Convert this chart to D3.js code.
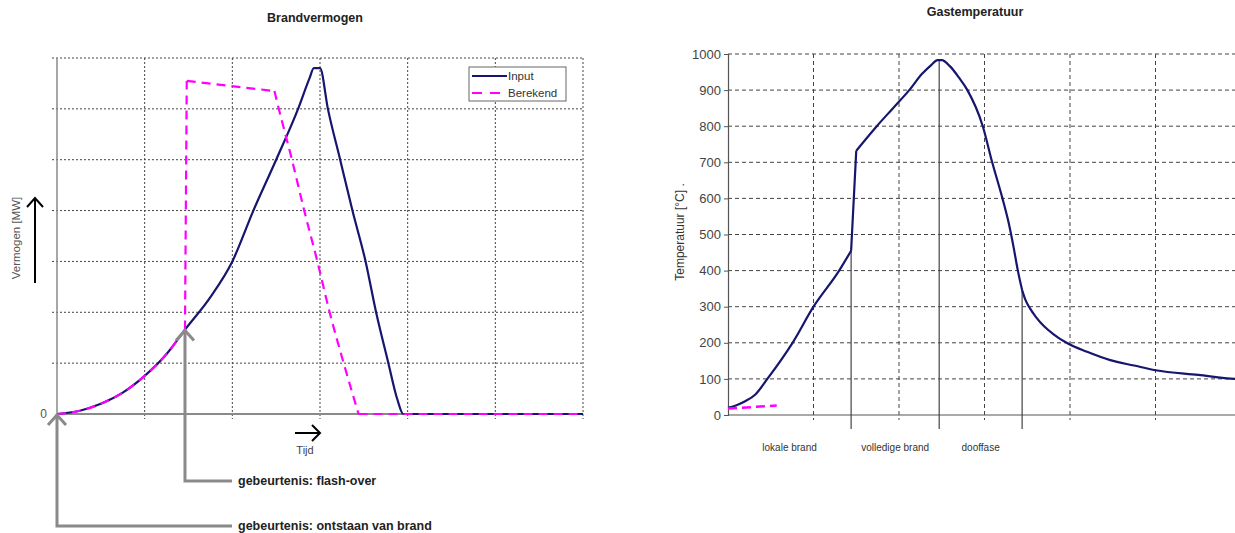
<!DOCTYPE html>
<html>
<head>
<meta charset="utf-8">
<script src="https://cdn.jsdelivr.net/npm/d3@7"></script>
<style>
  html, body { margin: 0; padding: 0; background: #fff; }
  svg { display: block; font-family: "Liberation Sans", Arial, sans-serif; }
</style>
</head>
<body>
<svg id="chart" width="1235" height="533"></svg>
<script>
// ---- Brandvermogen (fire power, arbitrary units over time) ----
const powerGridX = [1, 2, 3, 4, 5, 6];
const powerGridY = [1, 2, 3, 4, 5, 6, 7];
const inputTime  = [0, 0.25, 0.5, 0.75, 1.0, 1.25, 1.46, 1.75, 2.0, 2.24, 2.5, 2.75, 2.88, 2.93, 3.0, 3.09, 3.23, 3.37, 3.52, 3.64, 3.78, 3.88, 3.95, 6.0];
const inputPower = [0, 0.06, 0.2, 0.42, 0.75, 1.18, 1.66, 2.3, 3.0, 4.0, 5.0, 6.0, 6.6, 6.8, 6.8, 6.0, 5.0, 4.0, 3.0, 2.0, 1.0, 0.3, 0, 0];
const inputCorners = [];
const calcTime   = [0, 0.25, 0.5, 0.75, 1.0, 1.25, 1.46, 1.48, 2.48, 2.53, 2.68, 2.82, 2.97, 3.11, 3.27, 3.44, 6.0];
const calcPower  = [0, 0.06, 0.2, 0.42, 0.75, 1.18, 1.66, 6.55, 6.35, 6.0, 5.0, 4.0, 3.0, 2.0, 1.0, 0, 0];
const calcCorners = [1.46, 1.48, 2.48, 3.44];
const legendNames = ["Input", "Berekend"];
const eventNames  = ["gebeurtenis: flash-over", "gebeurtenis: ontstaan van brand"];
const eventTimes  = [1.46, 0];
const eventPower  = [1.66, 0];

// ---- Gastemperatuur (gas temperature in °C over time) ----
const tempTicks = [0, 100, 200, 300, 400, 500, 600, 700, 800, 900, 1000];
const tempGridX = [1, 2, 3, 4, 5, 6];
const tempTime  = [0, 0.1, 0.2, 0.32, 0.46, 0.755, 1.0, 1.3, 1.44, 1.5, 1.74, 1.93, 2.12, 2.27, 2.38, 2.45, 2.5, 2.6, 2.7, 2.8, 2.98, 3.09, 3.21, 3.28, 3.34, 3.39, 3.44, 3.48, 3.53, 3.6, 3.7, 3.8, 3.96, 4.2, 4.47, 4.75, 5.0, 5.5, 5.93, 6.0];
const tempValue = [20, 27, 38, 57, 100, 200, 300, 400, 455, 732, 800, 850, 900, 945, 970, 983, 983, 965, 935, 900, 800, 700, 600, 535, 465, 400, 346, 318, 296, 272, 245, 225, 200, 175, 152, 137, 124, 111, 100, 99];
const tempCorners = [1.44, 1.5, 3.44];
const tempCalcTime  = [0, 0.57];
const tempCalcValue = [18, 26];
const phaseTimes = [1.44, 2.47, 3.44];
const phaseTemps = [455, 983, 346];
const phaseNames = ["lokale brand", "volledige brand", "dooffase"];

const NAVY = "#16166e";
const MAGENTA = "#ff00ff";
const svg = d3.select("#chart");

// Split a series into smooth pieces at its sharp corners; a corner point
// ends one piece and starts the next, so the pieces join without gaps.
function pieces(times, values, corners) {
  const pts = d3.zip(times, values);
  const out = [];
  let cur = [];
  pts.forEach(p => {
    cur.push(p);
    if (corners.includes(p[0])) { out.push(cur); cur = [p]; }
  });
  if (cur.length > 1) out.push(cur);
  return out;
}
function drawSeries(g, line, times, values, corners, stroke, width, dash) {
  const segs = pieces(times, values, corners);
  const d = segs.map(s => line(s)).join("");
  g.append("path").attr("d", d).attr("fill", "none")
    .attr("stroke", stroke).attr("stroke-width", width)
    .attr("stroke-linejoin", "round")
    .attr("stroke-dasharray", dash);
}

// ================= left chart =================
const xL = d3.scaleLinear().domain([0, 6]).range([57, 583]);
const yL = d3.scaleLinear().domain([0, 7]).range([414, 58]);
const left = svg.append("g");

left.append("text")
  .attr("x", 315).attr("y", 22).attr("text-anchor", "middle")
  .attr("font-size", 12.5).attr("font-weight", "bold").attr("fill", "#222")
  .text("Brandvermogen");

// dotted grid
left.selectAll(".gx").data(powerGridX).join("line")
  .attr("x1", d => xL(d)).attr("x2", d => xL(d))
  .attr("y1", yL(7)).attr("y2", yL(0) + 5)
  .attr("stroke", "#444").attr("stroke-width", 1).attr("stroke-dasharray", "2,2");
left.selectAll(".gy").data(powerGridY).join("line")
  .attr("x1", xL(0) - 5).attr("x2", xL(6))
  .attr("y1", d => yL(d)).attr("y2", d => yL(d))
  .attr("stroke", "#444").attr("stroke-width", 1).attr("stroke-dasharray", "2,2");

// axes
left.append("line").attr("x1", xL(0)).attr("x2", xL(0)).attr("y1", yL(7)).attr("y2", yL(0))
  .attr("stroke", "#8a8a8a").attr("stroke-width", 1.5);
left.append("line").attr("x1", xL(0)).attr("x2", xL(6)).attr("y1", yL(0)).attr("y2", yL(0))
  .attr("stroke", "#8a8a8a").attr("stroke-width", 2);
left.append("text").attr("x", 47).attr("y", yL(0) + 4).attr("text-anchor", "end")
  .attr("font-size", 12).attr("fill", "#555").text("0");

// series
const lineL = d3.line().x(d => xL(d[0])).y(d => yL(d[1])).curve(d3.curveMonotoneX);
drawSeries(left, lineL, inputTime, inputPower, inputCorners, NAVY, 2.2, null);
drawSeries(left, lineL, calcTime, calcPower, calcCorners, MAGENTA, 2.2, "9,6");

// legend
const lg = left.append("g");
lg.append("rect").attr("x", 469).attr("y", 67).attr("width", 97).attr("height", 34)
  .attr("fill", "#fff").attr("stroke", "#666").attr("stroke-width", 1);
lg.selectAll(".ll").data(legendNames).join("line")
  .attr("x1", 472).attr("x2", 507)
  .attr("y1", (d, i) => 76 + i * 17).attr("y2", (d, i) => 76 + i * 17)
  .attr("stroke", (d, i) => i ? MAGENTA : NAVY).attr("stroke-width", 2.2)
  .attr("stroke-dasharray", (d, i) => i ? "10,8" : null);
lg.selectAll(".lt").data(legendNames).join("text")
  .attr("x", 508).attr("y", (d, i) => 80 + i * 17)
  .attr("font-size", 11.5).attr("fill", "#333").text(d => d);

// y label with arrow
left.append("text")
  .attr("transform", "translate(16,238) rotate(-90)")
  .attr("text-anchor", "middle").attr("dominant-baseline", "central")
  .attr("font-size", 11.5).attr("fill", "#555").text("Vermogen [MW]");
left.append("path").attr("d", "M35,283 V198 M27,207 L35,198 L43,207")
  .attr("fill", "none").attr("stroke", "#000").attr("stroke-width", 2);

// time arrow
left.append("path").attr("d", "M295,433 H320 M312,425 L320,433 L312,441")
  .attr("fill", "none").attr("stroke", "#000").attr("stroke-width", 2);
left.append("text").attr("x", 305).attr("y", 454).attr("text-anchor", "middle")
  .attr("font-size", 11).attr("fill", "#444").text("Tijd");

// event call-outs
const eventBaseY = [481, 526];
eventNames.forEach((name, i) => {
  const tx = xL(eventTimes[i]), ty = yL(eventPower[i]);
  left.append("path")
    .attr("d", `M${tx},${ty} V${eventBaseY[i]} H${xL(0) + 175}`)
    .attr("fill", "none").attr("stroke", "#8a8a8a").attr("stroke-width", 3);
  left.append("path")
    .attr("d", `M${tx - 9},${ty + 11} L${tx},${ty + 1} L${tx + 9},${ty + 11}`)
    .attr("fill", "none").attr("stroke", "#8a8a8a").attr("stroke-width", 3);
  left.append("text").attr("x", 238).attr("y", eventBaseY[i] + 4)
    .attr("font-size", 12.5).attr("font-weight", "bold").attr("fill", "#222").text(name);
});

// ================= right chart =================
const xR = d3.scaleLinear().domain([0, 6]).range([728, 1241]);
const yR = d3.scaleLinear().domain([0, 1000]).range([415, 54]);
const right = svg.append("g");

right.append("text")
  .attr("x", 975).attr("y", 16).attr("text-anchor", "middle")
  .attr("font-size", 12.5).attr("font-weight", "bold").attr("fill", "#222")
  .text("Gastemperatuur");

// dashed grid
right.selectAll(".gx").data(tempGridX).join("line")
  .attr("x1", d => xR(d)).attr("x2", d => xR(d))
  .attr("y1", yR(1000)).attr("y2", yR(0) + 5)
  .attr("stroke", "#444").attr("stroke-width", 1).attr("stroke-dasharray", "4,3");
right.selectAll(".gy").data(tempTicks.filter(d => d > 0)).join("line")
  .attr("x1", xR(0)).attr("x2", 1235)
  .attr("y1", d => yR(d)).attr("y2", d => yR(d))
  .attr("stroke", "#444").attr("stroke-width", 1).attr("stroke-dasharray", "4,3");

// y axis with ticks
const yAxisR = d3.axisLeft(yR).tickValues(tempTicks).tickFormat(d3.format("d"))
  .tickSize(4).tickPadding(3);
const ya = right.append("g").attr("transform", `translate(${xR(0)},0)`).call(yAxisR);
ya.select(".domain").attr("stroke", "#555").attr("stroke-width", 1.2);
ya.selectAll(".tick line").attr("stroke", "#555");
ya.selectAll(".tick text").attr("font-size", 13).attr("fill", "#444")
  .attr("font-family", "Liberation Sans, Arial, sans-serif");
right.append("line").attr("x1", xR(0)).attr("x2", 1235).attr("y1", yR(0)).attr("y2", yR(0))
  .attr("stroke", "#555").attr("stroke-width", 1.2);

right.append("text")
  .attr("transform", "translate(680,232) rotate(-90)")
  .attr("text-anchor", "middle").attr("dominant-baseline", "central")
  .attr("font-size", 12).attr("fill", "#333").text("Temperatuur [°C] .");

// phase separators and labels
right.selectAll(".ph").data(phaseTimes).join("line")
  .attr("x1", d => xR(d)).attr("x2", d => xR(d))
  .attr("y1", (d, i) => yR(phaseTemps[i])).attr("y2", yR(0) + 14)
  .attr("stroke", "#444").attr("stroke-width", 1.2);
const phaseStarts = [0].concat(phaseTimes.slice(0, -1));
right.selectAll(".pl").data(phaseNames).join("text")
  .attr("x", (d, i) => xR((phaseStarts[i] + phaseTimes[i]) / 2))
  .attr("y", 451).attr("text-anchor", "middle")
  .attr("font-size", 10).attr("fill", "#333").text(d => d);

// series
const lineR = d3.line().x(d => xR(d[0])).y(d => yR(d[1])).curve(d3.curveMonotoneX);
drawSeries(right, lineR, tempTime, tempValue, tempCorners, NAVY, 2.2, null);
drawSeries(right, lineR, tempCalcTime, tempCalcValue, [], MAGENTA, 2.5, "9,5");
</script>
</body>
</html>
